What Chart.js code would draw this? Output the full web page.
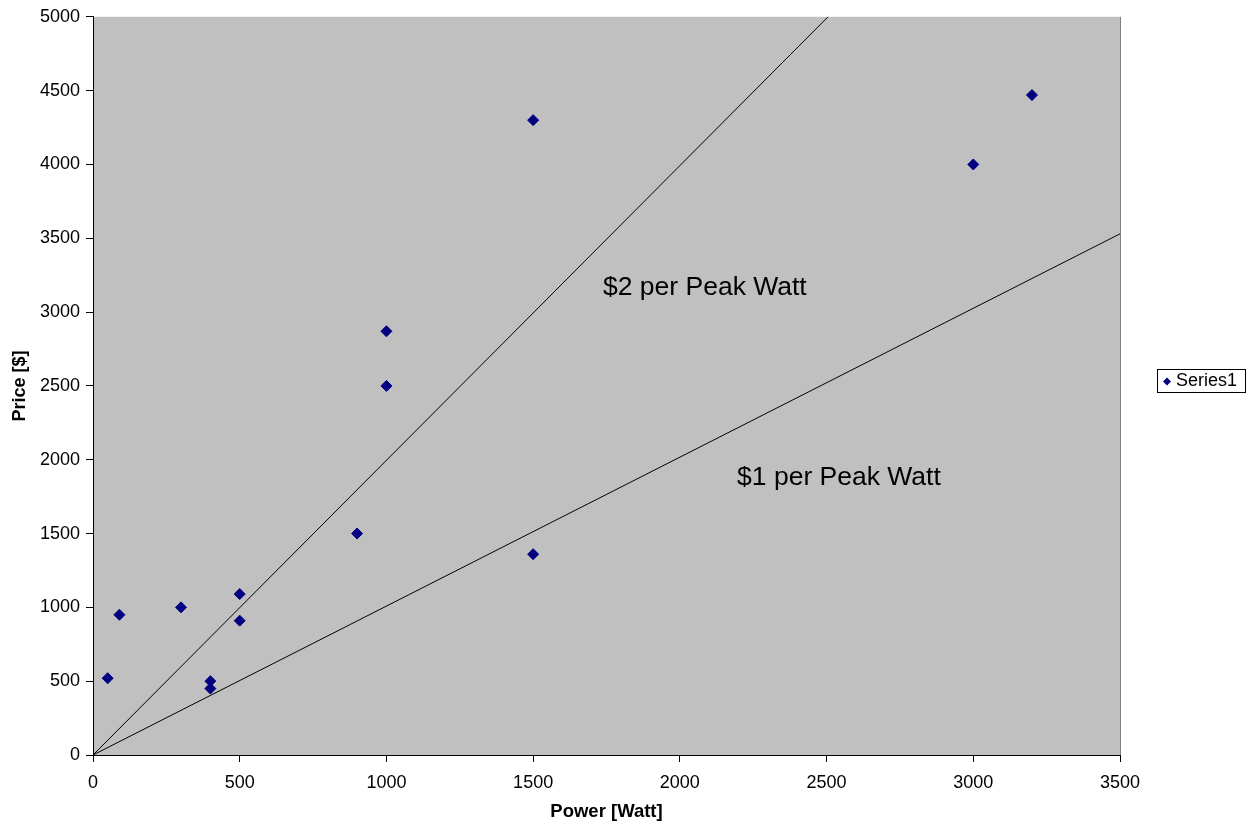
<!DOCTYPE html>
<html>
<head>
<meta charset="utf-8">
<script src="https://cdn.jsdelivr.net/npm/chart.js@4/dist/chart.umd.min.js"></script>
<style>
  body { margin: 0; background: #fff; }
  #wrap { width: 1252px; height: 830px; }
</style>
</head>
<body>
<div id="wrap"><canvas id="chart" width="1252" height="830"></canvas></div>
<script>
// Scatter data
var powerWatt = [50, 90, 300, 400, 400, 500, 500, 900, 1000, 1000, 1500, 1500, 3000, 3200];
var priceDollar = [520, 950, 1000, 500, 450, 1090, 910, 1500, 2870, 2500, 4300, 1360, 4000, 4470];

// Reference lines ($ per peak watt)
var line2X = [0, 2505];
var line2Y = [0, 5000];
var line1X = [0, 3500];
var line1Y = [0, 3530];

var xTicks = [0, 500, 1000, 1500, 2000, 2500, 3000, 3500];
var yTicks = [0, 500, 1000, 1500, 2000, 2500, 3000, 3500, 4000, 4500, 5000];

var noteTexts = ['$2 per Peak Watt', '$1 per Peak Watt'];
var noteX = [1738, 2195];
var noteY = [3162, 1878];

function pairs(xs, ys) {
    return xs.map(function (x, i) { return { x: x, y: ys[i] }; });
}

var FONT = '"Liberation Sans", Arial, sans-serif';

// Gray plot area
var plotBackground = {
    id: 'plotBackground',
    beforeDraw: function (chart) {
        var a = chart.chartArea, ctx = chart.ctx;
        ctx.save();
        ctx.fillStyle = '#c0c0c0';
        ctx.fillRect(a.left, a.top, a.right - a.left, a.bottom - a.top);
        ctx.strokeStyle = '#808080';
        ctx.lineWidth = 1;
        ctx.beginPath();
        ctx.moveTo(a.right + 0.5, a.top);
        ctx.lineTo(a.right + 0.5, a.bottom);
        ctx.stroke();
        ctx.restore();
    }
};

// Text notes next to the lines
var notes = {
    id: 'notes',
    afterDatasetsDraw: function (chart) {
        var ctx = chart.ctx, xs = chart.scales.x, ys = chart.scales.y;
        ctx.save();
        ctx.fillStyle = '#000';
        ctx.font = '26.5px ' + FONT;
        ctx.textAlign = 'left';
        ctx.textBaseline = 'middle';
        noteTexts.forEach(function (t, i) {
            ctx.fillText(t, xs.getPixelForValue(noteX[i]), ys.getPixelForValue(noteY[i]));
        });
        ctx.restore();
    }
};

// Boxed legend on the right, Excel style
var boxLegend = {
    id: 'boxLegend',
    afterDraw: function (chart) {
        var ctx = chart.ctx, ds = chart.data.datasets[0];
        var left = 1157, top = 369, w = 88, h = 23;
        ctx.save();
        ctx.fillStyle = '#fff';
        ctx.fillRect(left, top, w, h);
        ctx.strokeStyle = '#000';
        ctx.lineWidth = 1;
        ctx.strokeRect(left + 0.5, top + 0.5, w, h);
        ctx.fillStyle = ds.backgroundColor;
        ctx.beginPath();
        var cx = left + 10, cy = top + h / 2 + 1, r = 4;
        ctx.moveTo(cx, cy - r); ctx.lineTo(cx + r, cy); ctx.lineTo(cx, cy + r); ctx.lineTo(cx - r, cy);
        ctx.closePath();
        ctx.fill();
        ctx.fillStyle = '#000';
        ctx.font = '18px ' + FONT;
        ctx.textBaseline = 'middle';
        ctx.fillText(ds.label, left + 19, top + h / 2 + 1);
        ctx.restore();
    }
};

function plain(v) { return String(v); }

new Chart(document.getElementById('chart'), {
    type: 'scatter',
    data: {
        datasets: [{
            label: 'Series1',
            data: pairs(powerWatt, priceDollar),
            backgroundColor: '#000080',
            borderColor: '#000080',
            pointStyle: 'rectRot',
            pointRadius: 5.5,
            pointBorderWidth: 1,
            order: 1
        }, {
            label: '$2 per Peak Watt',
            data: pairs(line2X, line2Y),
            showLine: true,
            borderColor: '#000',
            borderWidth: 1,
            pointRadius: 0,
            order: 2
        }, {
            label: '$1 per Peak Watt',
            data: pairs(line1X, line1Y),
            showLine: true,
            borderColor: '#000',
            borderWidth: 1,
            pointRadius: 0,
            order: 2
        }]
    },
    options: {
        responsive: false,
        animation: false,
        layout: { padding: { top: 13, right: 132, left: 0, bottom: 0 } },
        plugins: {
            legend: { display: false },
            tooltip: { enabled: false }
        },
        scales: {
            x: {
                type: 'linear',
                min: 0, max: 3500,
                afterBuildTicks: function (s) { s.ticks = xTicks.map(function (v) { return { value: v }; }); },
                afterFit: function (s) { s.height = 75; },
                grid: { drawOnChartArea: false, tickLength: 7, color: '#000' },
                border: { color: '#000', width: 1 },
                ticks: { color: '#000', font: { family: FONT, size: 18 }, padding: 10, maxRotation: 0, callback: plain },
                title: { display: true, text: 'Power [Watt]', color: '#000', font: { family: FONT, size: 18.5, weight: 'bold' }, padding: { top: 0, bottom: 7 } }
            },
            y: {
                type: 'linear',
                min: 0, max: 5000,
                afterBuildTicks: function (s) { s.ticks = yTicks.map(function (v) { return { value: v }; }); },
                afterFit: function (s) { s.width = 93; },
                grid: { drawOnChartArea: false, tickLength: 7, color: '#000' },
                border: { color: '#000', width: 1 },
                ticks: { color: '#000', font: { family: FONT, size: 18 }, padding: 6, callback: plain },
                title: { display: true, text: 'Price [$]', color: '#000', font: { family: FONT, size: 18, weight: 'bold' }, padding: { top: 9, bottom: 0 } }
            }
        }
    },
    plugins: [plotBackground, notes, boxLegend]
});
</script>
</body>
</html>
